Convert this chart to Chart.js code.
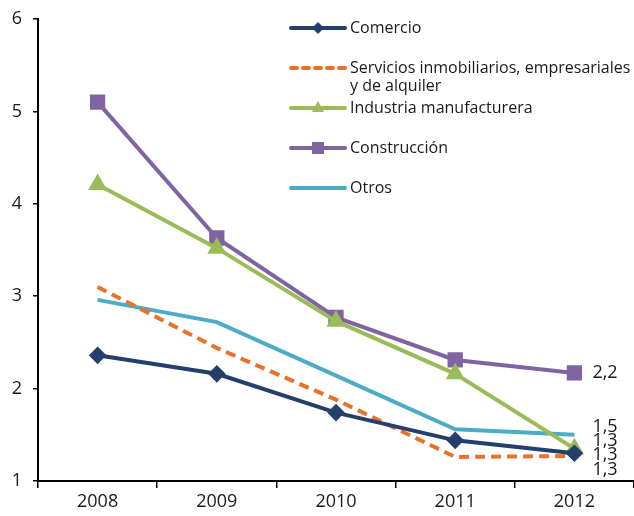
<!DOCTYPE html>
<html>
<head>
<meta charset="utf-8">
<script src="https://cdn.jsdelivr.net/npm/chart.js@4"></script>
<style>
html,body{margin:0;padding:0;background:#fff;}
#wrap{width:634px;height:516px;position:relative;}
</style>
</head>
<body>
<div id="wrap"><canvas id="c" width="634" height="516"></canvas></div>
<script>
const years = ["2008", "2009", "2010", "2011", "2012"];
const comercio = [2.36, 2.16, 1.74, 1.44, 1.30];
const servicios = [3.10, 2.44, 1.88, 1.26, 1.27];
const industria = [4.21, 3.52, 2.73, 2.16, 1.35];
const construccion = [5.10, 3.63, 2.77, 2.31, 2.17];
const otros = [2.96, 2.72, 2.14, 1.56, 1.50];
const seriesNames = ["Comercio", ["Servicios inmobiliarios, empresariales", "y de alquiler"], "Industria manufacturera", "Construcción", "Otros"];
const endLabels = ["1,3", "1,3", "1,3", "2,2", "1,5"];
const yTicks = [1, 2, 3, 4, 5, 6];

const FONT = "'Open Sans', 'Noto Sans', sans-serif";
const colors = ["#243f6b", "#e8722a", "#9bbb59", "#8064a2", "#4bacc6"];
const endDy = [2, 14, -8, 0, -8];

const datasets = [
  {label: "Comercio", data: comercio, borderColor: colors[0], backgroundColor: colors[0], pointStyle: "rectRot", pointRadius: 6, borderWidth: 4},
  {label: "Servicios", data: servicios, borderColor: colors[1], backgroundColor: colors[1], pointRadius: 0, borderWidth: 4, borderDash: [10, 6]},
  {label: "Industria", data: industria, borderColor: colors[2], backgroundColor: colors[2], pointStyle: "triangle", pointRadius: 7, borderWidth: 4},
  {label: "Construcción", data: construccion, borderColor: colors[3], backgroundColor: colors[3], pointStyle: "rect", pointRadius: 8, borderWidth: 4},
  {label: "Otros", data: otros, borderColor: colors[4], backgroundColor: colors[4], pointRadius: 0, borderWidth: 4}
].map(d => Object.assign({tension: 0, fill: false, pointHoverRadius: d.pointRadius}, d));

const customLegend = {
  id: "customLegend",
  afterDraw(chart) {
    const ctx = chart.ctx;
    const x0 = 291, x1 = 345, tx = 350;
    const ys = [28, 68, 108, 148, 188];
    ctx.save();
    ctx.font = "16px " + FONT;
    ctx.textBaseline = "middle";
    ctx.textAlign = "left";
    chart.data.datasets.forEach((ds, i) => {
      const y = ys[i];
      ctx.strokeStyle = ds.borderColor;
      ctx.lineWidth = 4;
      ctx.lineCap = "round";
      ctx.setLineDash(ds.borderDash ? [6, 6] : []);
      ctx.beginPath();
      ctx.moveTo(x0, y);
      ctx.lineTo(x1, y);
      ctx.stroke();
      ctx.setLineDash([]);
      if (ds.pointRadius > 0) {
        ctx.fillStyle = ds.backgroundColor;
        const cx = (x0 + x1) / 2;
        ctx.beginPath();
        if (ds.pointStyle === "rectRot") {
          const r = 6;
          ctx.moveTo(cx, y - r); ctx.lineTo(cx + r, y); ctx.lineTo(cx, y + r); ctx.lineTo(cx - r, y);
        } else if (ds.pointStyle === "triangle") {
          ctx.moveTo(cx, y - 7); ctx.lineTo(cx + 6, y + 4); ctx.lineTo(cx - 6, y + 4);
        } else {
          ctx.rect(cx - 6, y - 6, 12, 12);
        }
        ctx.closePath();
        ctx.fill();
      }
      ctx.fillStyle = "#1a1a1a";
      const name = seriesNames[i];
      if (Array.isArray(name)) {
        ctx.fillText(name[0], tx, y);
        ctx.fillText(name[1], tx, y + 18);
      } else {
        ctx.fillText(name, tx, y);
      }
    });
    ctx.restore();
  }
};

const endLabelPlugin = {
  id: "endLabelPlugin",
  afterDatasetsDraw(chart) {
    const ctx = chart.ctx;
    const ys = chart.scales.y;
    const xs = chart.scales.x;
    ctx.save();
    ctx.font = "18px " + FONT;
    ctx.fillStyle = "#1a1a1a";
    ctx.textBaseline = "middle";
    ctx.textAlign = "left";
    chart.data.datasets.forEach((ds, i) => {
      const last = ds.data.length - 1;
      const px = xs.getPixelForValue(last) + 18;
      const py = ys.getPixelForValue(ds.data[last]) + endDy[i];
      ctx.fillText(endLabels[i], px, py);
    });
    ctx.restore();
  }
};

new Chart(document.getElementById("c"), {
  type: "line",
  data: {labels: years, datasets},
  options: {
    responsive: false,
    animation: false,
    layout: {autoPadding: false, padding: {top: 19, right: 0, left: 0, bottom: 0}},
    plugins: {legend: {display: false}, tooltip: {enabled: false}},
    scales: {
      x: {
        offset: true,
        grid: {offset: true, drawOnChartArea: false, drawTicks: true, tickLength: 7, color: "#000", lineWidth: 1.5},
        border: {color: "#000", width: 2},
        ticks: {font: {family: FONT, size: 18}, color: "#1a1a1a", padding: 3},
        afterFit(s) { s.height = 35; s.paddingLeft = 0; s.paddingRight = 0; }
      },
      y: {
        min: 1, max: 6,
        afterBuildTicks(s) { s.ticks = yTicks.map(v => ({value: v})); },
        grid: {drawOnChartArea: false, drawTicks: true, tickLength: 5, color: "#000", lineWidth: 1.5},
        border: {color: "#000", width: 2},
        ticks: {font: {family: FONT, size: 18}, color: "#1a1a1a", padding: 11},
        afterFit(s) { s.width = 38; s.paddingTop = 0; s.paddingBottom = 0; }
      }
    }
  },
  plugins: [customLegend, endLabelPlugin]
});
</script>
</body>
</html>
